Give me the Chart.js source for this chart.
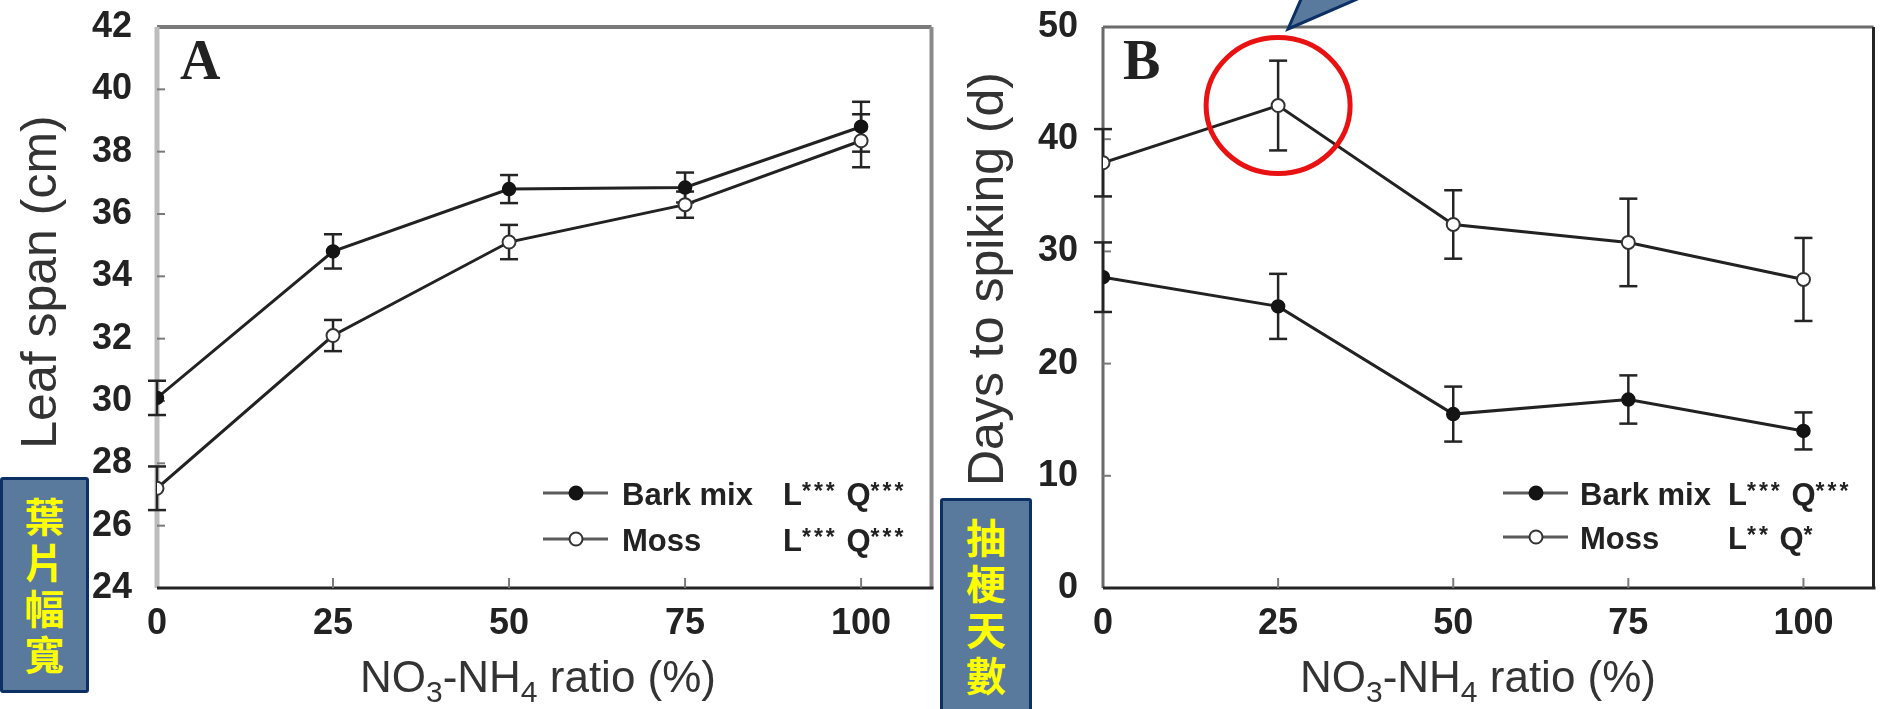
<!DOCTYPE html>
<html lang="zh-Hant">
<head>
<meta charset="UTF-8">
<title>NO3-NH4 ratio - leaf span / days to spiking</title>
<script src="https://cdn.jsdelivr.net/npm/chart.js"></script>
<style>
  body { margin: 0; background: #fff; width: 1882px; height: 709px; overflow: hidden; position: relative; }
  canvas { position: absolute; top: 0; }
  #graficoA { left: 0; }
  #graficoB { left: 940px; }
  .rotulo {
    position: absolute; box-sizing: border-box;
    background: #5a7a9d; border: 3px solid #0c3064; border-radius: 3px;
    color: #ffff00; font-family: "Noto Sans CJK TC", sans-serif; font-weight: 700;
    font-size: 40px; line-height: 46px; text-align: center;
  }
  #rotuloA { left: 0; top: 477px; width: 89px; height: 216px; padding-top: 12px; }
  #rotuloB { left: 940px; top: 498px; width: 92px; height: 230px; padding-top: 12px; }
  svg { position: absolute; left: 0; top: 0; }
</style>
</head>
<body>

<canvas id="graficoA" width="940" height="709"></canvas>
<canvas id="graficoB" width="942" height="709"></canvas>

<!-- etiquetas azuis em chinês -->
<div class="rotulo" id="rotuloA">葉<br>片<br>幅<br>寬</div>
<div class="rotulo" id="rotuloB">抽<br>梗<br>天<br>數</div>

<!-- seta do balão -->
<svg width="1882" height="709">
  <polygon points="1288,29 1302,-3 1362,-3" fill="#5a7a9d" stroke="#0c3064" stroke-width="3"></polygon>
</svg>

<script>
// dados
const ratio = [0, 25, 50, 75, 100];
const xTicks = [0, 25, 50, 75, 100];
const nomes = ['Bark mix', 'Moss'];

// A - Leaf span (cm)
const leafBark = [30.1, 34.8, 36.8, 36.85, 38.8];
const leafBarkErr = [0.55, 0.55, 0.45, 0.48, 0.8];
const leafMoss = [27.2, 32.1, 35.1, 36.3, 38.35];
const leafMossErr = [0.7, 0.5, 0.55, 0.42, 0.85];
const leafTicks = [24, 26, 28, 30, 32, 34, 36, 38, 40, 42];
const leafStats = ['L*** Q***', 'L*** Q***'];

// B - Days to spiking (d)
const spikeBark = [27.7, 25.1, 15.5, 16.8, 14.0];
const spikeBarkErr = [3.1, 2.9, 2.45, 2.15, 1.65];
const spikeMoss = [37.9, 43.0, 32.4, 30.8, 27.5];
const spikeMossErr = [3.0, 4.0, 3.05, 3.9, 3.7];
const spikeTicks = [0, 10, 20, 30, 40, 50];
const spikeStats = ['L*** Q***', 'L** Q*'];

const fonteTexto = '"Liberation Sans", Arial, sans-serif';

function linha(ctx, x1, y1, x2, y2) {
    ctx.beginPath(); ctx.moveTo(x1, y1); ctx.lineTo(x2, y2); ctx.stroke();
}

// escreve texto com partes sobrescritas (*) ou subscritas (_n)
function textoMisto(ctx, txt, x, y, tam, medir, negrito) {
    let pos = x;
    let i = 0;
    while (i < txt.length) {
        let c = txt[i];
        if (c === '*') {
            let j = i; while (txt[j] === '*') j++;
            ctx.font = 'bold ' + Math.round(tam * 0.75) + 'px ' + fonteTexto;
            for (let k = i; k < j; k++) {
                if (!medir) ctx.fillText('*', pos, y - tam * 0.2);
                pos += ctx.measureText('*').width + 3;
            }
            i = j;
        } else if (c === '_') {
            ctx.font = Math.round(tam * 0.68) + 'px ' + fonteTexto;
            if (!medir) ctx.fillText(txt[i + 1], pos, y + tam * 0.22);
            pos += ctx.measureText(txt[i + 1]).width;
            i += 2;
        } else {
            let j = i; while (j < txt.length && txt[j] !== '*' && txt[j] !== '_') j++;
            ctx.font = (negrito ? 'bold ' : '') + tam + 'px ' + fonteTexto;
            if (!medir) ctx.fillText(txt.slice(i, j), pos, y);
            pos += ctx.measureText(txt.slice(i, j)).width;
            i = j;
        }
    }
    return pos - x;
}

const pluginExtras = {
    id: 'extras',
    beforeDatasetsDraw(chart, args, o) {
        const ctx = chart.ctx, sx = chart.scales.x, sy = chart.scales.y, a = chart.chartArea;
        ctx.save();
        // moldura
        const f = o.moldura;
        ctx.lineCap = 'butt';
        ctx.strokeStyle = f.top[0]; ctx.lineWidth = f.top[1]; linha(ctx, a.left, a.top, a.right, a.top);
        ctx.strokeStyle = f.right[0]; ctx.lineWidth = f.right[1]; linha(ctx, a.right, a.top, a.right, a.bottom);
        ctx.strokeStyle = f.left[0]; ctx.lineWidth = f.left[1]; linha(ctx, a.left, a.top, a.left, a.bottom);
        ctx.strokeStyle = f.bottom[0]; ctx.lineWidth = f.bottom[1]; linha(ctx, a.left, a.bottom, a.right + 2, a.bottom);
        // marcas internas
        ctx.strokeStyle = '#7a7a7a'; ctx.lineWidth = 2;
        sx.ticks.forEach(t => {
            if (t.value === sx.min) return;
            const px = sx.getPixelForValue(t.value);
            linha(ctx, px, a.bottom, px, a.bottom - 10);
        });
        sy.ticks.forEach(t => {
            if (t.value === sy.min || t.value === sy.max) return;
            const py = sy.getPixelForValue(t.value);
            linha(ctx, a.left, py, a.left + 8, py);
        });
        // barras de erro
        ctx.strokeStyle = '#242424'; ctx.lineWidth = 2.5;
        chart.data.datasets.forEach(ds => {
            ds.data.forEach((p, j) => {
                const e = ds.erros[j];
                const px = sx.getPixelForValue(p.x);
                const pTop = sy.getPixelForValue(p.y + e), pBot = sy.getPixelForValue(p.y - e);
                linha(ctx, px, pTop, px, pBot);
                linha(ctx, px - 9, pTop, px + 9, pTop);
                linha(ctx, px - 9, pBot, px + 9, pBot);
            });
        });
        ctx.restore();
    },
    afterDraw(chart, args, o) {
        const ctx = chart.ctx, a = chart.chartArea;
        ctx.save();
        ctx.fillStyle = '#222';
        // letra do painel
        ctx.font = 'bold 56px "Liberation Serif", "Times New Roman", serif';
        ctx.textBaseline = 'alphabetic';
        ctx.fillText(o.letra, a.left + o.letraDx, a.top + 52);

        // título do eixo x com subscritos
        ctx.fillStyle = '#333';
        const larg = textoMisto(ctx, o.tituloX, 0, 0, 44, true, false);
        textoMisto(ctx, o.tituloX, o.tituloXc - larg / 2, 692, 44, false, false);

        // título do eixo y
        ctx.save();
        ctx.translate(o.tituloYx, o.tituloYc);
        ctx.rotate(-Math.PI / 2);
        ctx.font = '50px ' + fonteTexto;
        ctx.textAlign = 'center';
        ctx.fillText(o.tituloY, 0, 0);
        ctx.restore();

        // legenda
        const L = o.legenda;
        chart.data.datasets.forEach((ds, i) => {
            const yy = L.y0 + i * L.dy;
            ctx.strokeStyle = '#5a5a5a'; ctx.lineWidth = 3;
            linha(ctx, L.x0, yy, L.x0 + 65, yy);
            ctx.beginPath();
            ctx.arc(L.x0 + 33, yy, 6.5, 0, Math.PI * 2);
            ctx.fillStyle = ds.pointBackgroundColor; ctx.fill();
            ctx.lineWidth = 2; ctx.strokeStyle = ds.pointBorderColor; ctx.stroke();
            ctx.fillStyle = '#222';
            ctx.font = 'bold 31px ' + fonteTexto;
            ctx.fillText(ds.label, L.textoX, yy + 12);
            textoMisto(ctx, o.estat[i], L.estatX, yy + 12, 31, false, true);
        });

        // destaque vermelho
        if (o.destaque) {
            const d = o.destaque;
            const p = chart.data.datasets[d.serie].data[d.indice];
            const cx = chart.scales.x.getPixelForValue(p.x), cy = chart.scales.y.getPixelForValue(p.y);
            ctx.strokeStyle = '#e81212'; ctx.lineWidth = 5;
            ctx.beginPath();
            ctx.ellipse(cx, cy, d.rx, d.ry, 0, 0, Math.PI * 2);
            ctx.stroke();
        }
        ctx.restore();
    }
};

function montarGrafico(idCanvas, bark, barkErr, moss, mossErr, yTicks, larguraY, padDireita, extras) {
    const fonteTick = { family: fonteTexto, size: 36, weight: 'bold' };
    return new Chart(document.getElementById(idCanvas), {
        type: 'line',
        data: {
            datasets: [{
                label: nomes[0],
                data: ratio.map((r, i) => ({ x: r, y: bark[i] })),
                erros: barkErr,
                borderColor: '#222222', borderWidth: 3,
                pointRadius: 6.5, pointBackgroundColor: '#141414', pointBorderColor: '#141414', pointBorderWidth: 1.5,
                tension: 0
            }, {
                label: nomes[1],
                data: ratio.map((r, i) => ({ x: r, y: moss[i] })),
                erros: mossErr,
                borderColor: '#222222', borderWidth: 3,
                pointRadius: 6.5, pointBackgroundColor: '#ffffff', pointBorderColor: '#333333', pointBorderWidth: 2,
                tension: 0
            }]
        },
        options: {
            responsive: false,
            animation: false,
            layout: { padding: { top: 27, right: padDireita, left: 0, bottom: 0 } },
            plugins: { legend: { display: false }, tooltip: { enabled: false }, extras: extras },
            scales: {
                x: {
                    type: 'linear', min: 0, max: 110,
                    afterBuildTicks: s => { s.ticks = xTicks.map(v => ({ value: v })); },
                    afterFit: s => { s.height = 121; s.paddingLeft = 0; s.paddingRight = 0; },
                    grid: { display: false, drawTicks: false }, border: { display: false },
                    ticks: { padding: 14, font: fonteTick, color: '#222', autoSkip: false, maxRotation: 0 }
                },
                y: {
                    min: yTicks[0], max: yTicks[yTicks.length - 1],
                    afterBuildTicks: s => { s.ticks = yTicks.map(v => ({ value: v })); },
                    afterFit: s => { s.width = larguraY; s.paddingTop = 0; s.paddingBottom = 0; },
                    grid: { display: false, drawTicks: false }, border: { display: false },
                    ticks: { padding: 25, font: fonteTick, color: '#222', autoSkip: false }
                }
            }
        },
        plugins: [pluginExtras]
    });
}

montarGrafico('graficoA', leafBark, leafBarkErr, leafMoss, leafMossErr, leafTicks, 157, 4, {
    letra: 'A', letraDx: 23,
    tituloX: 'NO_3-NH_4 ratio (%)', tituloXc: 538,
    tituloY: 'Leaf span (cm)', tituloYx: 56, tituloYc: 282,
    moldura: { top: ['#7a7a7a', 4], right: ['#8a8a8a', 4], left: ['#bdbdbd', 5], bottom: ['#242424', 3] },
    legenda: { x0: 543, y0: 493, dy: 46, textoX: 622, estatX: 783 },
    estat: leafStats
});

montarGrafico('graficoB', spikeBark, spikeBarkErr, spikeMoss, spikeMossErr, spikeTicks, 163, 3, {
    letra: 'B', letraDx: 20,
    tituloX: 'NO_3-NH_4 ratio (%)', tituloXc: 538,
    tituloY: 'Days to spiking (d)', tituloYx: 63, tituloYc: 279,
    moldura: { top: ['#6a6a6a', 3], right: ['#242424', 3], left: ['#6a6a6a', 3], bottom: ['#242424', 3] },
    legenda: { x0: 563, y0: 493, dy: 44, textoX: 640, estatX: 788 },
    estat: spikeStats,
    destaque: { serie: 1, indice: 1, rx: 72, ry: 68 }
});
</script>
</body>
</html>
